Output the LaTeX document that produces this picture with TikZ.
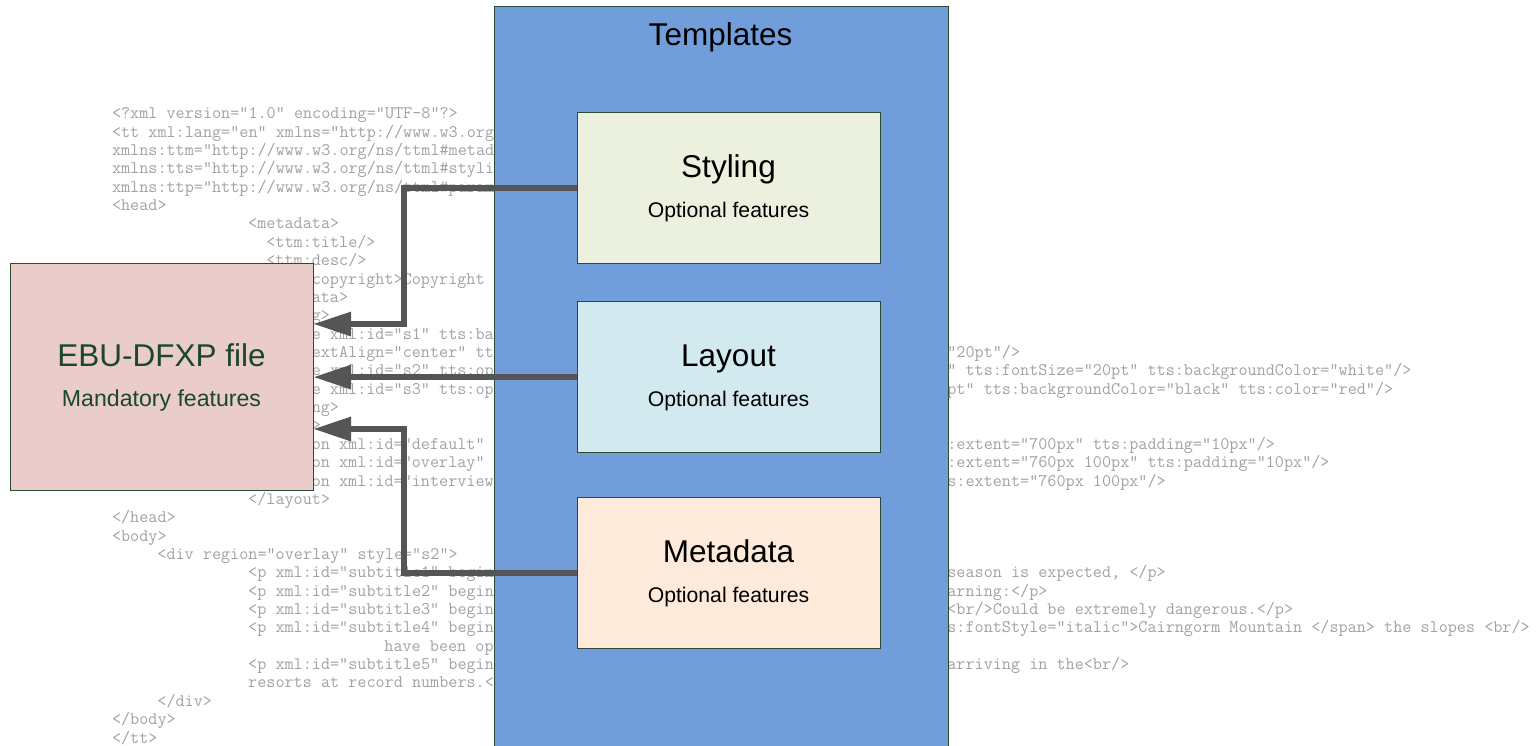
\documentclass[tikz,border=0pt]{standalone}
\usepackage{fontspec}
\setsansfont{Liberation Sans}
\usetikzlibrary{arrows.meta}
\definecolor{tplblue}{RGB}{113,158,219}
\definecolor{stylfill}{RGB}{235,241,222}
\definecolor{layfill}{RGB}{211,233,240}
\definecolor{metafill}{RGB}{253,234,218}
\definecolor{ebufill}{RGB}{234,204,202}
\definecolor{boxline}{RGB}{45,75,50}
\definecolor{ebutext}{RGB}{26,72,40}
\definecolor{arrowgray}{RGB}{85,85,85}
\definecolor{codegray}{RGB}{162,162,162}
\newcommand{\codeln}[3]{\node[codetext] (c#1x#2) at ({112+9.08*#2},{118.8+18.36*#1}) {#3};}
\tikzset{
  codetext/.style={anchor=base west, inner sep=0pt, outer sep=0pt, text=codegray,
    font=\ttfamily\fontsize{17.67}{18}\selectfont},
  boxnode/.style={draw=boxline, line width=1.2pt, inner sep=0pt, anchor=north west},
  bigtitle/.style={anchor=base, inner sep=0pt, font=\sffamily\fontsize{31.5}{34}\selectfont},
  subtitle/.style={anchor=base, inner sep=0pt, font=\sffamily\fontsize{21.2}{24}\selectfont},
  conn/.style={draw=arrowgray, line width=6pt,
    -{Triangle[length=37pt,width=25pt,line width=0pt]}}
}
\begin{document}
\begin{tikzpicture}[x=1pt,y=-1pt]
\useasboundingbox (0,0) rectangle (1539,745);
\fill[white] (0,0) rectangle (1539,745);
% code listing
\codeln{0}{0}{<?xml version="1.0" encoding="UTF-8"?>}
\codeln{1}{0}{<tt xml:lang="en" xmlns="http://www.w3.org}
\codeln{2}{0}{xmlns:ttm="http://www.w3.org/ns/ttml\#metad}
\codeln{3}{0}{xmlns:tts="http://www.w3.org/ns/ttml\#styli}
\codeln{4}{0}{xmlns:ttp="http://www.w3.org/ns/ttml\#param}
\codeln{5}{0}{<head>}
\codeln{6}{15}{<metadata>}
\codeln{7}{17}{<ttm:title/>}
\codeln{8}{17}{<ttm:desc/>}
\codeln{9}{22}{copyright>Copyright}
\codeln{10}{22}{ata>}
\codeln{11}{22}{g>}
\codeln{12}{22}{e xml:id="s1" tts:ba}
\codeln{13}{22}{extAlign="center" tt}
\codeln{13}{91}{="20pt"/>}
\codeln{14}{22}{e xml:id="s2" tts:op}
\codeln{14}{91}{t" tts:fontSize="20pt" tts:backgroundColor="white"/>}
\codeln{15}{22}{e xml:id="s3" tts:op}
\codeln{15}{91}{0pt" tts:backgroundColor="black" tts:color="red"/>}
\codeln{16}{22}{ng>}
\codeln{17}{22}{>}
\codeln{18}{22}{on xml:id="default"}
\codeln{18}{91}{s:extent="700px" tts:padding="10px"/>}
\codeln{19}{22}{on xml:id="overlay"}
\codeln{19}{91}{s:extent="760px 100px" tts:padding="10px"/>}
\codeln{20}{22}{on xml:id="interview}
\codeln{20}{91}{ts:extent="760px 100px"/>}
\codeln{21}{15}{</layout>}
\codeln{22}{0}{</head>}
\codeln{23}{0}{<body>}
\codeln{24}{5}{<div region="overlay" style="s2">}
\codeln{25}{15}{<p xml:id="subtitle1" begin}
\codeln{25}{92}{season is expected, </p>}
\codeln{26}{15}{<p xml:id="subtitle2" begin}
\codeln{26}{91}{warning:</p>}
\codeln{27}{15}{<p xml:id="subtitle3" begin}
\codeln{27}{91}{e<br/>Could be extremely dangerous.</p>}
\codeln{28}{15}{<p xml:id="subtitle4" begin}
\codeln{28}{91}{ts:fontStyle="italic">Cairngorm Mountain </span> the slopes <br/>}
\codeln{29}{30}{have been op}
\codeln{30}{15}{<p xml:id="subtitle5" begin}
\codeln{30}{92}{arriving in the<br/>}
\codeln{31}{15}{resorts at record numbers.<}
\codeln{32}{5}{</div>}
\codeln{33}{0}{</body>}
\codeln{34}{0}{</tt>}
% boxes
\node[boxnode, fill=tplblue, minimum width=453.7pt, minimum height=770pt] (templates) at (494,6) {};
\node[bigtitle] (templatesT) at (720.5,45.7) {Templates};
\node[boxnode, fill=ebufill, minimum width=303pt, minimum height=227pt] (ebu) at (10,263) {};
\node[bigtitle, text=ebutext] (ebuT) at (161.5,366.7) {EBU-DFXP file};
\node[subtitle, text=ebutext, font=\sffamily\fontsize{23.1}{26}\selectfont] (ebuS) at (161.5,406) {Mandatory features};
\node[boxnode, fill=stylfill, minimum width=303pt, minimum height=151pt] (styling) at (577,112) {};
\node[bigtitle] (stylingT) at (728.5,177) {Styling};
\node[subtitle] (stylingS) at (728.5,217) {Optional features};
\node[boxnode, fill=layfill, minimum width=303pt, minimum height=151pt] (layout) at (577,301) {};
\node[bigtitle] (layoutT) at (728.5,366) {Layout};
\node[subtitle] (layoutS) at (728.5,406) {Optional features};
\node[boxnode, fill=metafill, minimum width=303pt, minimum height=151pt] (metadata) at (577,497) {};
\node[bigtitle] (metadataT) at (728.5,562) {Metadata};
\node[subtitle] (metadataS) at (728.5,602) {Optional features};
% connectors
\coordinate (j1) at (404,324);
\coordinate (j3) at (404,429);
\draw[conn] (styling.west) -| (j1) -- (j1 -| ebu.east);
\draw[conn] (layout.west) -- (layout.west -| ebu.east);
\draw[conn] (metadata.west) -| (j3) -- (j3 -| ebu.east);
\end{tikzpicture}
\end{document}
